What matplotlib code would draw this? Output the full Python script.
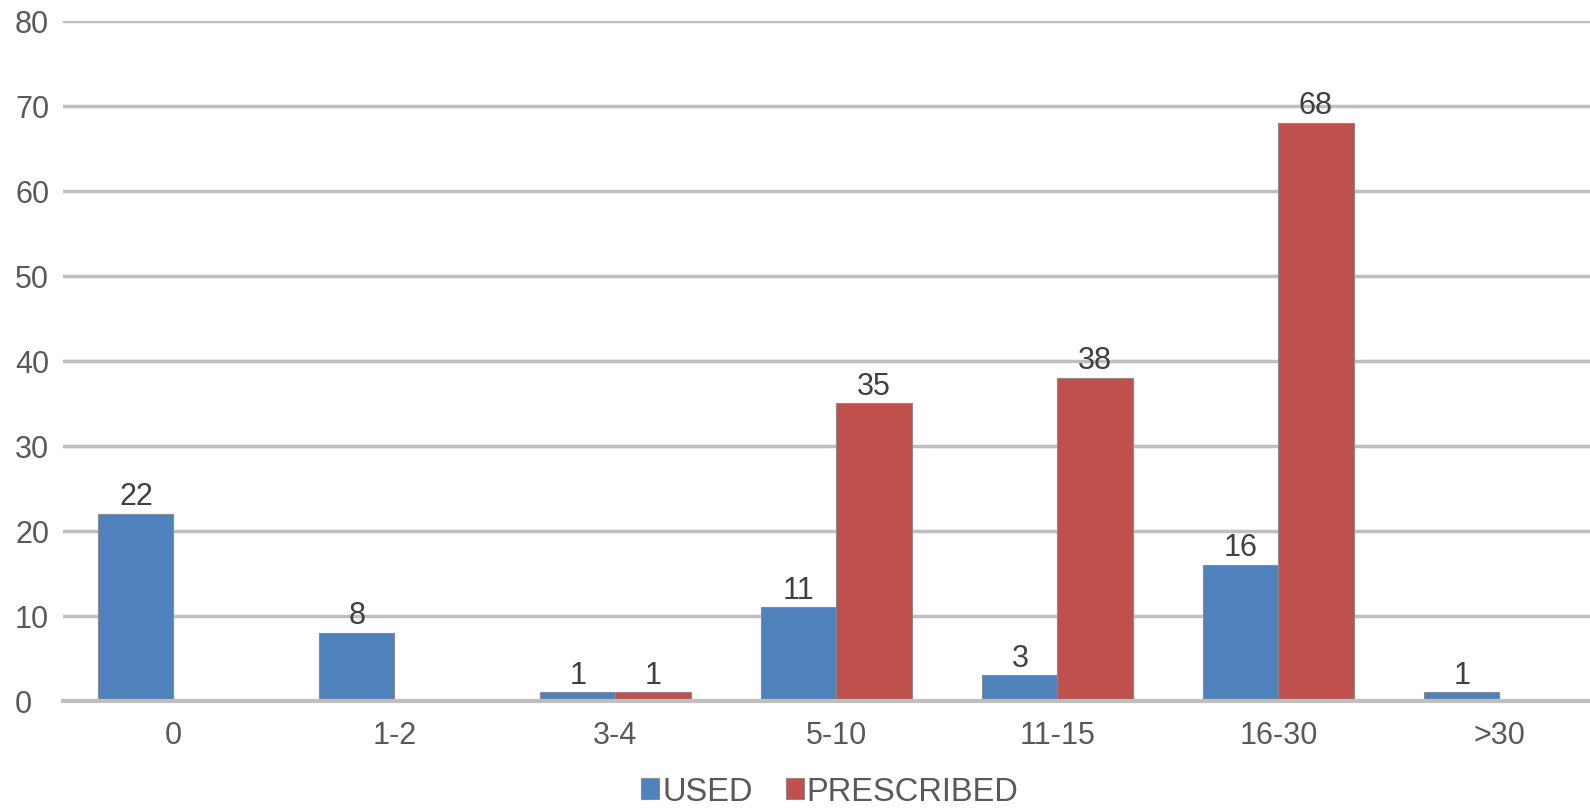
import numpy as np
import matplotlib
matplotlib.use("Agg")
import matplotlib.pyplot as plt

categories = ["0", "1-2", "3-4", "5-10", "11-15", "16-30", ">30"]
used = [22, 8, 1, 11, 3, 16, 1]
prescribed = [0, 0, 1, 35, 38, 68, 0]

BLUE, RED = "#4F81BD", "#C0504D"
TXT = "#595959"
GRID = "#BFBFBF"

plt.rcParams.update({"font.family": ["Liberation Sans", "DejaVu Sans"],
                     "font.size": 22})

fig = plt.figure(figsize=(15.9, 8.12), dpi=100)
ax = fig.add_axes([0.0396, 0.1355, 0.9604, 0.8375])

x = np.arange(len(categories))
w = 0.34
b1 = ax.bar(x - w / 2, used, width=w, color=BLUE, edgecolor="#8a8a8a",
            linewidth=0.8, label="USED", zorder=3)
b2 = ax.bar(x + w / 2, prescribed, width=w, color=RED, edgecolor="#8a8a8a",
            linewidth=0.8, label="PRESCRIBED", zorder=3)

for bars, vals in ((b1, used), (b2, prescribed)):
    for r, v in zip(bars, vals):
        if v == 0:
            continue
        ax.text(r.get_x() + r.get_width() / 2, v + 0.3, str(v), ha="center",
                va="bottom", color="#404040", fontsize=22)

# plot area runs a little past the right edge of the picture
ax.set_xlim(-0.5, 6.41)
ax.set_ylim(0, 80)
ax.set_yticks(range(0, 81, 10))
ax.set_xticks(x)
ax.set_xticklabels(categories)
ax.yaxis.grid(True, color=GRID, linewidth=2.5, zorder=0)
ax.set_axisbelow(True)
for s in ["top", "right", "left"]:
    ax.spines[s].set_visible(False)
ax.spines["bottom"].set_color(GRID)
ax.spines["bottom"].set_linewidth(3)
ax.spines["bottom"].set_zorder(4)
ax.tick_params(axis="both", length=0, colors=TXT, labelsize=22)
ax.tick_params(axis="y", pad=34.5)
ax.tick_params(axis="x", pad=14)
for lab in ax.get_yticklabels():
    lab.set_horizontalalignment("left")

leg = fig.legend(handles=[b1, b2], loc="center", bbox_to_anchor=(0.522, 0.024),
                 ncol=2, frameon=False, fontsize=23.5, handlelength=0.55,
                 handleheight=0.6, handletextpad=0.1, columnspacing=1.0,
                 borderpad=0.1)
for t in leg.get_texts():
    t.set_color(TXT)

fig.savefig("out.png", dpi=100)
